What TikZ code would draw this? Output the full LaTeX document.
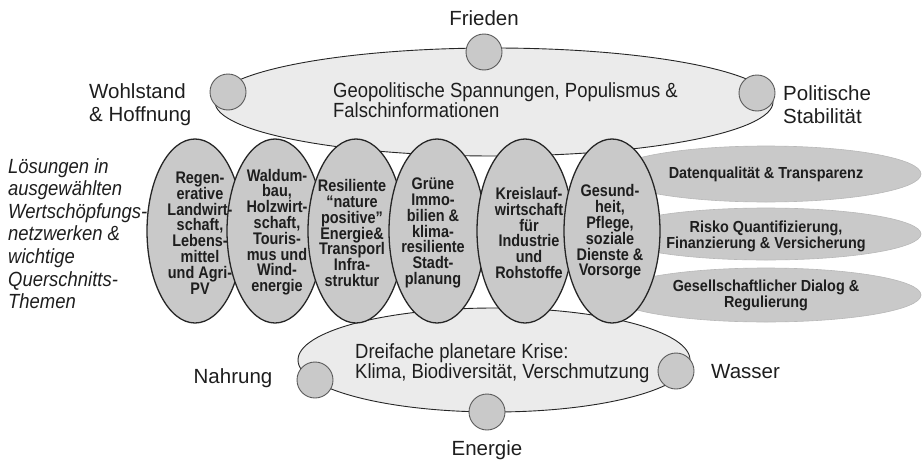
\documentclass[tikz,border=0pt]{standalone}
\usepackage{fontspec}
\setmainfont{Liberation Sans}
\newfontfamily\nf[FakeStretch=0.9]{Liberation Sans}
\newfontfamily\nfb[FakeStretch=0.86]{Liberation Sans}
\usetikzlibrary{shapes.geometric}
\definecolor{lightfill}{HTML}{EBEBEB}
\definecolor{midfill}{HTML}{C9C9C9}
\definecolor{edgedark}{HTML}{262626}
\definecolor{edgecirc}{HTML}{5A5A5A}
\definecolor{edgesoft}{HTML}{B8B8B8}
\definecolor{txt}{HTML}{1E1E1E}
\begin{document}
\begin{tikzpicture}[x=1pt,y=-1pt,
  bigell/.style={ellipse, draw=edgedark, fill=lightfill, line width=0.9pt, inner sep=0pt},
  soln/.style={ellipse, draw=edgedark, fill=midfill, line width=1.3pt, inner sep=0pt, minimum width=96pt, minimum height=184pt},
  cross/.style={ellipse, draw=edgesoft, fill=midfill, line width=0.6pt, inner sep=0pt, minimum width=310pt},
  dot/.style={circle, draw=edgecirc, fill=midfill, line width=0.9pt, inner sep=0pt, minimum size=36pt},
  lab/.style={text=txt, inner sep=0pt, font=\fontsize{20.5}{23}\selectfont},
  ntext/.style={text=txt, inner sep=0pt, font=\nf\fontsize{20.5}{23}\selectfont},
  soltext/.style={text=txt, inner sep=0pt, align=center, font=\nfb\bfseries\fontsize{16.8}{15.8}\selectfont},
  crosstext/.style={text=txt, inner sep=0pt, align=center, font=\nf\bfseries\fontsize{16}{16}\selectfont},
  sidetext/.style={text=txt, inner sep=0pt, align=left, font=\nf\itshape\fontsize{20.5}{22.6}\selectfont}
]
\useasboundingbox (0,0) rectangle (923,463);

% top ellipse
\node[bigell, minimum width=558pt, minimum height=108pt] (top) at (494,102) {};

% cross-cutting themes
\node[cross, minimum height=56pt] (c1) at (766,174) {};
\node[cross, minimum height=52pt] (c2) at (766,234) {};
\node[cross, minimum height=54pt] (c3) at (766,295) {};

% bottom ellipse
\node[bigell, minimum width=392pt, minimum height=104pt] (bot) at (494,360) {};

% solution ellipses
\node[soln] (s1) at (195,231) {};
\node[soln] (s2) at (275,231) {};
\node[soln] (s3) at (356,231) {};
\node[soln] (s4) at (437,231) {};
\node[soln] (s5) at (525,231) {};
\node[soln] (s6) at (612,231) {};

% circles
\node[dot] (pw) at (228,92) {};
\node[dot] (pf) at (484,52) {};
\node[dot] (ps) at (757,93) {};
\node[dot] (bn) at (315,380) {};
\node[dot] (bw) at (676,371) {};
\node[dot] (be) at (487,412) {};

% labels around
\node[lab, anchor=base] (tfr) at (484,25) {Frieden};
\node[lab, anchor=base west] (twa) at (89,98) {Wohlstand};
\node[lab, anchor=base west] (twb) at (89,121) {\& Hoffnung};
\node[lab, anchor=base west] (tpa) at (783,100) {Politische};
\node[lab, anchor=base west] (tpb) at (783,123) {Stabilität};
\node[lab, anchor=base] (tna) at (233,383) {Nahrung};
\node[lab, anchor=base west] (twas) at (711,378) {Wasser};
\node[lab, anchor=base] (ten) at (487,455) {Energie};

% ellipse texts
\node[ntext, anchor=base west] (tga) at (333,97) {Geopolitische Spannungen, Populismus \&};
\node[ntext, anchor=base west] (tgb) at (333,117) {Falschinformationen};
\node[ntext, anchor=base west] (tda) at (355,358) {Dreifache planetare Krise:};
\node[ntext, anchor=base west] (tdb) at (355,378) {Klima, Biodiversität, Verschmutzung};

% side text
\node[sidetext, anchor=north west] (side) at (8,158) {Lösungen in\\ausgewählten\\Wertschöpfungs-\\netzwerken \&\\wichtige\\Querschnitts-\\Themen};

% solution texts
\node[soltext] (ts1) at (200,233) {Regen-\\erative\\Landwirt-\\schaft,\\Lebens-\\mittel\\und Agri-\\PV};
\node[soltext] (ts2) at (277,232) {Waldum-\\bau,\\Holzwirt-\\schaft,\\Touris-\\mus und\\Wind-\\energie};
\node[soltext] (ts3) at (352,233) {Resiliente\\“nature\\positive”\\Energie\&\\Transporl\\Infra-\\struktur};
\node[soltext] (ts4) at (433,233) {Grüne\\Immo-\\bilien \&\\klima-\\resiliente\\Stadt-\\planung};
\node[soltext] (ts5) at (529,233) {Kreislauf-\\wirtschaft\\für\\Industrie\\und\\Rohstoffe};
\node[soltext] (ts6) at (610,232) {Gesund-\\heit,\\Pflege,\\soziale\\Dienste \&\\Vorsorge};

% cross texts
\node[crosstext] (tc1) at (766,174) {Datenqualität \& Transparenz};
\node[crosstext] (tc2) at (766,236) {Risko Quantifizierung,\\Finanzierung \& Versicherung};
\node[crosstext] (tc3) at (766,295) {Gesellschaftlicher Dialog \&\\Regulierung};
\end{tikzpicture}
\end{document}
